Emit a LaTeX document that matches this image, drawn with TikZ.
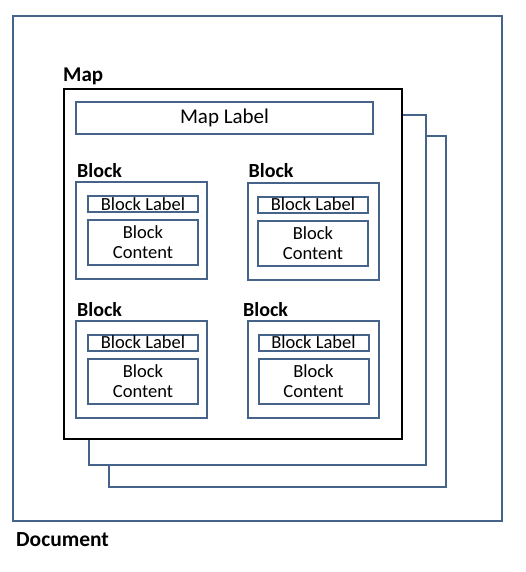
\documentclass[tikz,border=0pt]{standalone}
\usepackage{fontspec}
\setmainfont{Carlito}
\usepackage{tikz}

\definecolor{frameblue}{RGB}{70,100,138}

\begin{document}
\begin{tikzpicture}[
    x=1pt, y=-1pt,
    frame/.style={rectangle, draw=frameblue, line width=2pt, fill=white, inner sep=0pt},
    docbox/.style={frame, minimum width=489pt, minimum height=505pt},
    pagebox/.style={frame, minimum width=337pt, minimum height=350pt},
    mapbox/.style={rectangle, draw=black, line width=2.4pt, fill=white, inner sep=0pt, minimum width=338pt, minimum height=350pt},
    maplabel/.style={frame, minimum width=297pt, minimum height=32pt, font=\fontsize{21}{25}\selectfont},
    blockbox/.style={frame, minimum width=131pt, minimum height=97pt},
    labelbox/.style={frame, minimum width=110pt, minimum height=16pt, font=\fontsize{18.5}{20}\selectfont},
    contentbox/.style={frame, minimum width=110pt, minimum height=45pt, align=center, font=\fontsize{18.5}{20}\selectfont},
    title/.style={anchor=base west, inner sep=0pt, font=\bfseries\fontsize{20}{24}\selectfont}
]
\useasboundingbox (0,0) rectangle (526,572);

% Document and stacked pages
\node[docbox] (doc) at (257.5,268.5) {};
\node[pagebox] (page3) at (277.5,311.5) {};
\node[pagebox] (page2) at (257.5,290) {};
\node[mapbox] (map) at (233,264) {};

% Map
\node[maplabel] (mlabel) at (224.5,118) {Map Label};

% Blocks
\node[blockbox] (b1) at (141.5,230.5) {};
\node[labelbox] (b1label) at (143,204) {Block Label};
\node[contentbox] (b1content) at (143,242.5) {Block\\Content};

\node[blockbox] (b2) at (313,231.5) {};
\node[labelbox] (b2label) at (313,204.5) {Block Label};
\node[contentbox] (b2content) at (313,243.5) {Block\\Content};

\node[blockbox] (b3) at (141.5,369) {};
\node[labelbox] (b3label) at (143,342.5) {Block Label};
\node[contentbox] (b3content) at (143,381) {Block\\Content};

\node[blockbox] (b4) at (313.5,369.5) {};
\node[labelbox] (b4label) at (313.5,342.5) {Block Label};
\node[contentbox] (b4content) at (313.5,381) {Block\\Content};

% Titles
\node[title, font=\bfseries\fontsize{21}{25}\selectfont] (maptitle) at (63,82) {Map};
\node[title] (b1title) at (77,177) {Block};
\node[title] (b2title) at (248.5,178) {Block};
\node[title] (b3title) at (77,316) {Block};
\node[title] (b4title) at (243,316) {Block};
\node[title, font=\bfseries\fontsize{21.5}{25}\selectfont] (doctitle) at (16,546) {Document};

\end{tikzpicture}
\end{document}
